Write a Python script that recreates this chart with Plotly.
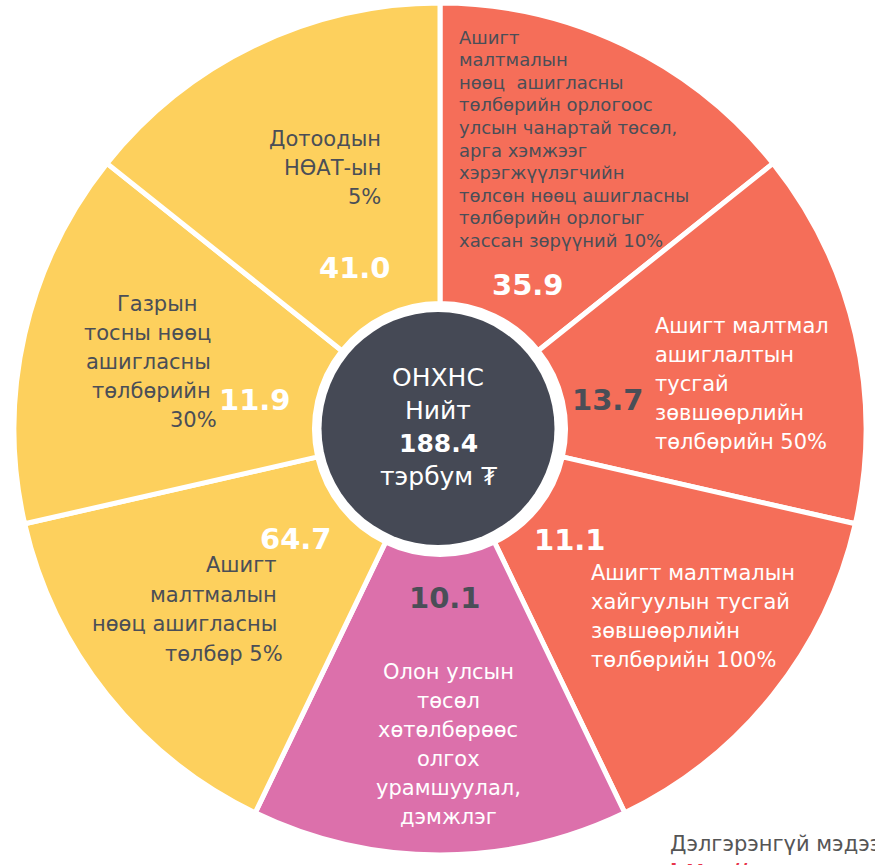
import plotly.graph_objects as go

W, H = 875, 865
FONT = 'DejaVu Sans'
DARK = '#4A4E57'
WHITE = '#FFFFFF'

# slices clockwise from 12 o'clock, drawn as equal wedges
amounts = [35.9, 13.7, 11.1, 10.1, 64.7, 11.9, 41.0]
slice_share = [1, 1, 1, 1, 1, 1, 1]
slice_colors = ['#F56E59', '#F56E59', '#F56E59', '#DC70AB',
                '#FDD05D', '#FDD05D', '#FDD05D']
labels = [
    'Ашигт<br>малтмалын<br>нөөц  ашигласны<br>төлбөрийн орлогоос<br>улсын чанартай төсөл,'
    '<br>арга хэмжээг<br>хэрэгжүүлэгчийн<br>төлсөн нөөц ашигласны<br>төлбөрийн орлогыг'
    '<br>хассан зөрүүний 10%',
    'Ашигт малтмал<br>ашиглалтын<br>тусгай<br>зөвшөөрлийн<br>төлбөрийн 50%',
    'Ашигт малтмалын<br>хайгуулын тусгай<br>зөвшөөрлийн<br>төлбөрийн 100%',
    'Олон улсын<br>төсөл<br>хөтөлбөрөөс<br>олгох<br>урамшуулал,<br>дэмжлэг',
    'Ашигт<br>малтмалын<br>нөөц ашигласны<br>төлбөр 5%',
    'Газрын<br>тосны нөөц<br>ашигласны<br>төлбөрийн<br>30%',
    'Дотоодын<br>НӨАТ-ын<br>5%',
]
center_lines = ['ОНХНС', 'Нийт', None, 'тэрбум ₮']
footer_text = 'Дэлгэрэнгүй мэдээлэл:'
footer_link = 'http://'

# text block placement per slice, in pixels:
# (x or per-line x list, first line y, line step, anchor, size, colour)
label_pos = [
    (457, 37, 22.6, 'left', 18, DARK),
    (653, 326, 29, 'left', 21, WHITE),
    (589, 573, 29, 'left', 21, WHITE),
    (448, 672, 29, 'center', 21, WHITE),
    ([279, 279, 279, 285], 565, 29.5, 'right', 21, DARK),
    ([199, 213, 213, 213, 219], 304, 29, 'right', 21, DARK),
    (383, 139, 29, 'right', 21, DARK),
]
number_pos = [(528, 285, WHITE), (608, 400, DARK), (570, 540, WHITE),
              (445, 598, DARK), (296, 539, WHITE), (255, 400, WHITE),
              (355, 268, WHITE)]

cx, cy, R = 440, 429, 426


def px(x):
    return x / W


def py(y):
    return 1 - y / H


fig = go.Figure()
fig.add_trace(go.Pie(values=slice_share,
                     labels=[f's{i}' for i in range(len(slice_share))],
                     marker=dict(colors=slice_colors,
                                 line=dict(color='white', width=5)),
                     sort=False, direction='clockwise', rotation=0,
                     hole=125.5 / R, textinfo='none', hoverinfo='skip',
                     showlegend=False,
                     domain=dict(x=[px(cx - R), px(cx + R)],
                                 y=[py(cy + R), py(cy - R)])))

# dark centre disc
rc = 116.5
fig.add_shape(type='circle', xref='paper', yref='paper',
              x0=px(438 - rc), x1=px(438 + rc),
              y0=py(428.5 + rc), y1=py(428.5 - rc),
              fillcolor='#454955', line=dict(width=0), layer='above')


def add_block(lines, x, y0, dy, anchor, size, color, bold=False):
    xs = x if isinstance(x, list) else [x] * len(lines)
    for i, ln in enumerate(lines):
        txt = f'<b>{ln}</b>' if bold else ln
        fig.add_annotation(x=px(xs[i]), y=py(y0 + i * dy), xref='paper', yref='paper',
                           text=txt, showarrow=False, xanchor=anchor,
                           yanchor='middle', align=anchor,
                           font=dict(family=FONT, size=size, color=color))


for lab, (x, y0, dy, anchor, size, col) in zip(labels, label_pos):
    add_block(lab.split('<br>'), x, y0, dy, anchor, size, col)

for amt, (x, y, col) in zip(amounts, number_pos):
    add_block([f'{amt:.1f}'], x, y, 0, 'center', 29, col, bold=True)

total = f'{sum(amounts):.1f}'
for i, ln in enumerate(center_lines):
    add_block([total if ln is None else ln], 438, 377 + i * 33.3, 0, 'center',
              25, WHITE, bold=ln is None)

# source note at the bottom edge, cut off by the frame as in the original
add_block([footer_text], 668, 844, 0, 'left', 21, '#555555')
add_block([footer_link], 668, 871, 0, 'left', 22, '#E8344A', bold=True)

fig.update_layout(width=W, height=H, margin=dict(l=0, r=0, t=0, b=0),
                  paper_bgcolor='white', plot_bgcolor='white',
                  font=dict(family=FONT))
fig.write_html('out.html', config={'displayModeBar': False},
               post_script="document.body.style.margin='0';")
